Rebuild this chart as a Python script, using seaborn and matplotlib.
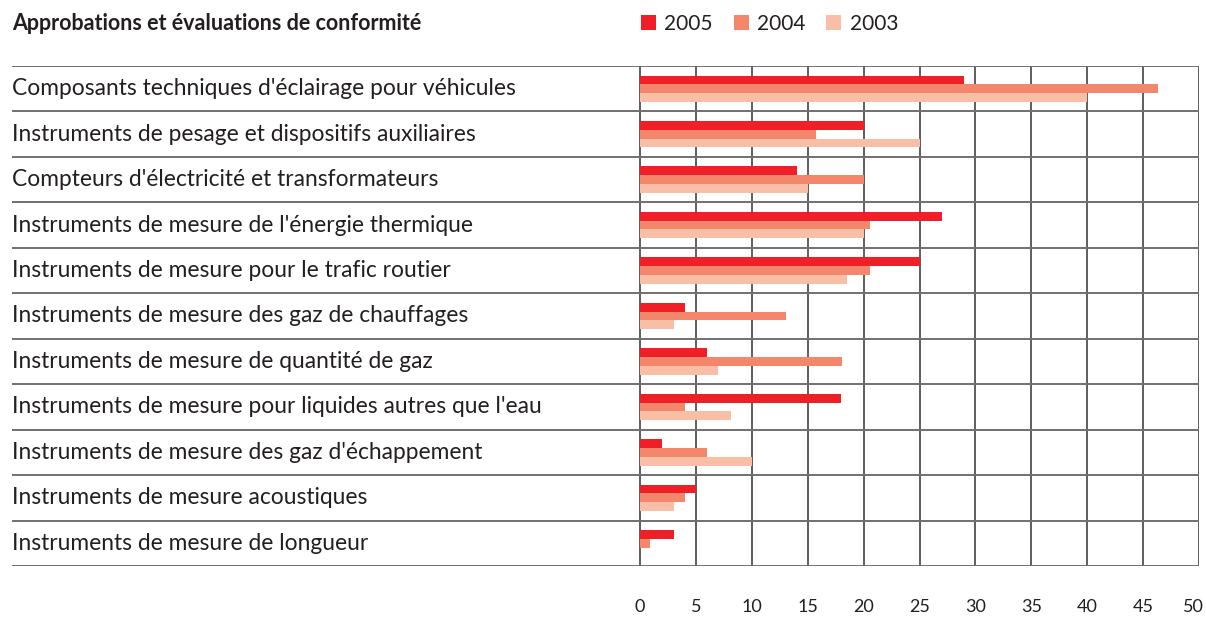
import numpy as np
import pandas as pd
import matplotlib
matplotlib.use("Agg")
import matplotlib.pyplot as plt
import matplotlib.transforms as mtransforms
import seaborn as sns

categories = [
    "Composants techniques d'éclairage pour véhicules",
    "Instruments de pesage et dispositifs auxiliaires",
    "Compteurs d'électricité et transformateurs",
    "Instruments de mesure de l'énergie thermique",
    "Instruments de mesure pour le trafic routier",
    "Instruments de mesure des gaz de chauffages",
    "Instruments de mesure de quantité de gaz",
    "Instruments de mesure pour liquides autres que l'eau",
    "Instruments de mesure des gaz d'échappement",
    "Instruments de mesure acoustiques",
    "Instruments de mesure de longueur",
]
years = ["2005", "2004", "2003"]
values_2005 = [29, 20, 14, 27, 25, 4, 6, 18, 2, 5, 3]
values_2004 = [46.3, 15.7, 20, 20.6, 20.6, 13.1, 18.1, 4, 6, 4, 0.9]
values_2003 = [40, 25, 15, 20, 18.5, 3, 7, 8.1, 10, 3, 0]
x_ticks = [0, 5, 10, 15, 20, 25, 30, 35, 40, 45, 50]

colors = ["#ee1f27", "#f4866b", "#f9bea6"]
text_color = "#231f20"

df = pd.DataFrame({
    "categorie": categories * 3,
    "annee": np.repeat(years, len(categories)),
    "valeur": values_2005 + values_2004 + values_2003,
})

sns.set_theme(style="white")
plt.rcParams["font.family"] = ["Lato", "DejaVu Sans"]

W, H = 1206, 618
fig = plt.figure(figsize=(W / 100, H / 100), dpi=100)
left_px, right_px, top_px, bottom_px = 12, 1199, 66, 566
ax = fig.add_axes([left_px / W, 1 - bottom_px / H,
                   (right_px - left_px) / W, (bottom_px - top_px) / H])

sns.barplot(data=df, x="valeur", y="categorie", hue="annee", hue_order=years,
            palette=colors, saturation=1, orient="h", width=0.58, linewidth=0,
            ax=ax, legend=True, zorder=3)

# x range so that 0 sits at pixel 640 and 50 at the right edge
scale = (right_px - 640) / 50
ax.set_xlim(-(640 - left_px) / scale, 50)
ax.set_ylim(len(categories) - 0.5, -0.5)

ax.set_xticks(x_ticks)
ax.set_xticklabels([str(t) for t in x_ticks], fontsize=13, color=text_color)
ax.tick_params(axis="x", direction="out", length=16, width=1.1,
               color="#333333", pad=8)
ax.tick_params(axis="y", left=False, labelleft=False)
last = ax.get_xticklabels()[-1]
last.set_transform(last.get_transform() +
                   mtransforms.ScaledTranslation(-6 / 100, 0, fig.dpi_scale_trans))
ax.grid(axis="x", color="#333333", linewidth=1.1, zorder=0)
ax.grid(axis="y", visible=False)
ax.set_axisbelow(True)
for s in ax.spines.values():
    s.set_visible(False)
ax.set_xlabel("")
ax.set_ylabel("")

for b in np.arange(-0.5, len(categories) + 0.5, 1):
    ax.axhline(b, color="#707070", linewidth=1.4, zorder=1)

for i, c in enumerate(categories):
    ax.text(0.0, i, c, transform=ax.get_yaxis_transform(),
            ha="left", va="center", fontsize=16.4, color=text_color)

fig.text(12 / W, 1 - 24 / H, "Approbations et évaluations de conformité",
         ha="left", va="center", fontsize=15.5, fontweight="bold", color=text_color)

handles, labels = ax.get_legend_handles_labels()
ax.get_legend().remove()
fig.legend(handles, labels, loc="center left", bbox_to_anchor=(641 / W, 1 - 24 / H),
           ncol=3, frameon=False, fontsize=15, handlelength=0.72, handleheight=0.72,
           handletextpad=0.4, columnspacing=1.0, borderaxespad=0, borderpad=0,
           labelcolor=text_color)

fig.savefig("out.png", dpi=100)
